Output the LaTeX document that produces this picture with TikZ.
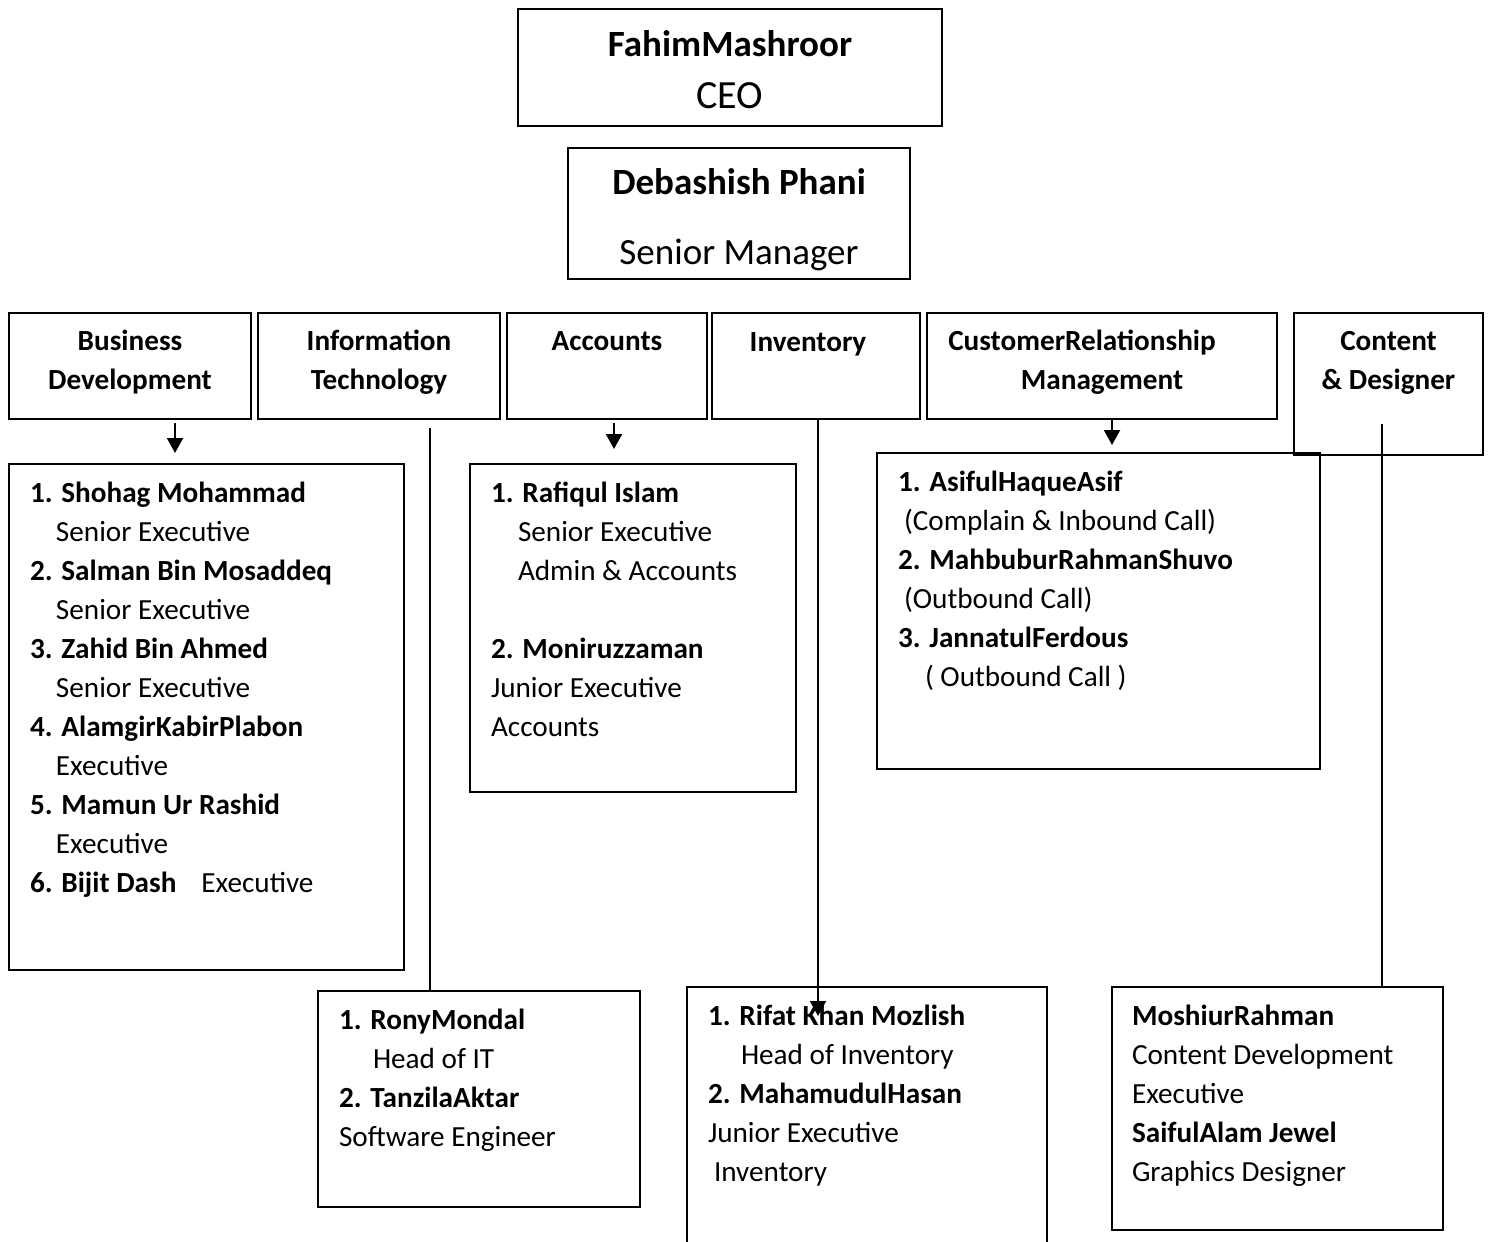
\documentclass[tikz,border=0pt]{standalone}
\usepackage{fontspec}
\setmainfont{Carlito}
\usetikzlibrary{fit,arrows.meta}

\tikzset{
  orgbox/.style={draw, line width=1pt, inner sep=0pt, outer sep=0pt},
  txt/.style={inner sep=0pt, outer sep=0pt, font=\lsttxt},
  names/.style={txt, anchor=base west},
  head/.style={txt, anchor=base, font=\lsttxt\bfseries},
  conn/.style={line width=1pt},
  arr/.style={line width=1pt, -{Triangle[length=7.5pt,width=8pt]}}
}
\newcommand{\lsttxt}{\fontsize{14.6}{19.5}\selectfont}
\newcommand{\toptxt}{\fontsize{18.5}{22}\selectfont}
\newcommand{\ind}[1]{\hspace*{#1pt}}

\begin{document}
\begin{tikzpicture}[x=0.5pt,y=-0.5pt]
\useasboundingbox (0,0) rectangle (1491,1241);
\clip (0,0) rectangle (1491,1241);

% top of the chart
\node[orgbox, fit={(518,9) (942,126)}] (ceo) {};
\node[orgbox, fit={(568,148) (910,279)}] (sm) {};
\node[txt, anchor=base, font=\toptxt\bfseries] (ceoname) at ([shift={(0,48)}]ceo.north) {FahimMashroor};
\node[txt, anchor=base, font=\fontsize{20}{24}\selectfont] (ceotitle) at ([shift={(0,100)}]ceo.north) {CEO};
\node[txt, anchor=base, font=\toptxt\bfseries] (smname) at ([shift={(0,46)}]sm.north) {Debashish Phani};
\node[txt, anchor=base, font=\toptxt] (smtitle) at ([shift={(0,116)}]sm.north) {Senior Manager};

% departments
\node[orgbox, fit={(9,313) (251,419)}] (bd) {};
\node[orgbox, fit={(258,313) (500,419)}] (it) {};
\node[orgbox, fit={(507,313) (707,419)}] (acc) {};
\node[orgbox, fit={(712,313) (920,419)}] (inv) {};
\node[orgbox, fit={(927,313) (1277,419)}] (crm) {};
\node[orgbox, fit={(1294,313) (1483,455)}] (cnt) {};

\node[head] (bdhead) at ([shift={(0,37)}]bd.north) {\begin{tabular}[t]{@{}c@{}}Business\\Development\end{tabular}};
\node[head] (ithead) at ([shift={(0,37)}]it.north) {\begin{tabular}[t]{@{}c@{}}Information\\Technology\end{tabular}};
\node[head] (acchead) at ([shift={(0,37)}]acc.north) {Accounts};
\node[head] (invhead) at ([shift={(0,38)}]inv.north) {Inventory\ind{8}};
\node[head] (crmhead) at ([shift={(0,37)}]crm.north) {\begin{tabular}[t]{@{}c@{}}CustomerRelationship\ind{20}\\Management\end{tabular}};
\node[head] (cnthead) at ([shift={(0,37)}]cnt.north) {\begin{tabular}[t]{@{}c@{}}Content\\\& Designer\end{tabular}};

% staff lists
\node[orgbox, fit={(9,464) (404,970)}] (bdlist) {};
\node[orgbox, fit={(470,464) (796,792)}] (acclist) {};
\node[orgbox, fit={(877,453) (1320,769)}] (crmlist) {};
\node[orgbox, fit={(318,991) (640,1207)}] (itlist) {};
\node[orgbox, fit={(687,987) (1047,1270)}] (invlist) {};
\node[orgbox, fit={(1112,987) (1443,1230)}] (cntlist) {};

\node[names] (bdnames) at ([shift={(21,38)}]bdlist.north west) {\begin{tabular}[t]{@{}l@{}}
  \textbf{1. Shohag Mohammad}\\ \ind{13}Senior Executive\\
  \textbf{2. Salman Bin Mosaddeq}\\ \ind{13}Senior Executive\\
  \textbf{3. Zahid Bin Ahmed}\\ \ind{13}Senior Executive\\
  \textbf{4. AlamgirKabirPlabon}\\ \ind{13}Executive\\
  \textbf{5. Mamun Ur Rashid}\\ \ind{13}Executive\\
  \textbf{6. Bijit Dash}\hspace{12.5pt}Executive
\end{tabular}};
\node[names] (accnames) at ([shift={(21,38)}]acclist.north west) {\begin{tabular}[t]{@{}l@{}}
  \textbf{1. Rafiqul Islam}\\ \ind{13.5}Senior Executive\\ \ind{13.5}Admin \& Accounts\\ \\
  \textbf{2. Moniruzzaman}\\ Junior Executive\\ Accounts
\end{tabular}};
\node[names] (crmnames) at ([shift={(21,38)}]crmlist.north west) {\begin{tabular}[t]{@{}l@{}}
  \textbf{1. AsifulHaqueAsif}\\ \ind{3}(Complain \& Inbound Call)\\
  \textbf{2. MahbuburRahmanShuvo}\\ \ind{3}(Outbound Call)\\
  \textbf{3. JannatulFerdous}\\ \ind{13.5}( Outbound Call )
\end{tabular}};
\node[names] (itnames) at ([shift={(21,38)}]itlist.north west) {\begin{tabular}[t]{@{}l@{}}
  \textbf{1. RonyMondal}\\ \ind{17}Head of IT\\
  \textbf{2. TanzilaAktar}\\ Software Engineer
\end{tabular}};
\node[names] (invnames) at ([shift={(21,38)}]invlist.north west) {\begin{tabular}[t]{@{}l@{}}
  \textbf{1. Rifat Khan Mozlish}\\ \ind{16.5}Head of Inventory\\
  \textbf{2. MahamudulHasan}\\ Junior Executive\\ \ind{3}Inventory
\end{tabular}};
\node[names] (cntnames) at ([shift={(20,38)}]cntlist.north west) {\begin{tabular}[t]{@{}l@{}}
  \textbf{MoshiurRahman}\\ Content Development\\ Executive\\
  \textbf{SaifulAlam Jewel}\\ Graphics Designer
\end{tabular}};

% connectors
\coordinate (bdtop) at (175,419);
\coordinate (acctop) at (614,419);
\coordinate (crmtop) at (1112,419);
\coordinate (ittop) at (430,419);
\coordinate (invtop) at (818,419);
\coordinate (cnttop) at (1382,455);
\draw[arr, shorten <=2pt, shorten >=5.5pt] (bdtop) -- (bdtop |- bdlist.north);
\draw[arr, shorten <=2pt, shorten >=7.5pt] (acctop) -- (acctop |- acclist.north);
\draw[arr, shorten >=4pt] (crmtop) -- (crmtop |- crmlist.north);
\draw[conn, shorten <=4.5pt] (ittop) -- (ittop |- itlist.north);
\draw[arr, shorten >=-14.5pt] (invtop) -- (invtop |- invlist.north);
\draw[conn, shorten <=-15.5pt] (cnttop) -- (cnttop |- cntlist.north);
\end{tikzpicture}
\end{document}
